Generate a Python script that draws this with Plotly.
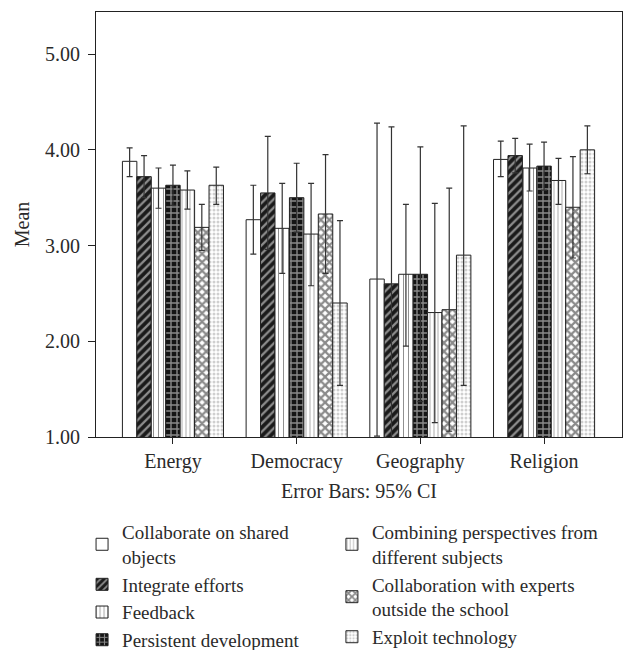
import plotly.graph_objects as go

categories = ["Energy", "Democracy", "Geography", "Religion"]

series_names = [
    "Collaborate on shared<br>objects",
    "Integrate efforts",
    "Feedback",
    "Persistent development",
    "Combining perspectives from<br>different subjects",
    "Collaboration with experts<br>outside the school",
    "Exploit technology",
]

collab_shared = [3.88, 3.27, 2.65, 3.90]
integrate = [3.72, 3.55, 2.60, 3.94]
feedback = [3.60, 3.18, 2.70, 3.81]
persistent = [3.63, 3.50, 2.70, 3.83]
combining = [3.58, 3.12, 2.30, 3.68]
experts = [3.19, 3.33, 2.33, 3.40]
exploit = [3.63, 2.40, 2.90, 4.00]

collab_shared_hi = [4.02, 3.63, 4.28, 4.09]
integrate_hi = [3.94, 4.14, 4.24, 4.12]
feedback_hi = [3.81, 3.65, 3.43, 4.06]
persistent_hi = [3.84, 3.86, 4.03, 4.08]
combining_hi = [3.78, 3.65, 3.44, 3.91]
experts_hi = [3.43, 3.95, 3.60, 3.93]
exploit_hi = [3.82, 3.26, 4.25, 4.25]

collab_shared_lo = [3.72, 2.91, 1.01, 3.72]
integrate_lo = [3.50, 2.96, 0.96, 3.76]
feedback_lo = [3.39, 2.71, 1.95, 3.57]
persistent_lo = [3.42, 3.14, 1.37, 3.58]
combining_lo = [3.38, 2.58, 1.15, 3.43]
experts_lo = [2.95, 2.71, 1.06, 2.87]
exploit_lo = [3.43, 1.54, 1.54, 3.75]

y_ticks = [1, 2, 3, 4, 5]

means = [collab_shared, integrate, feedback, persistent, combining, experts, exploit]
highs = [collab_shared_hi, integrate_hi, feedback_hi, persistent_hi, combining_hi, experts_hi, exploit_hi]
lows = [collab_shared_lo, integrate_lo, feedback_lo, persistent_lo, combining_lo, experts_lo, exploit_lo]

patterns = [
    dict(shape="", bgcolor="white"),
    dict(shape="/", bgcolor="#1a1a1a", fgcolor="white", size=6, solidity=0.38),
    dict(shape="|", bgcolor="white", fgcolor="#222222", size=5, solidity=0.2),
    dict(shape="+", bgcolor="#151515", fgcolor="white", size=6, solidity=0.4),
    dict(shape="|", bgcolor="white", fgcolor="#8a8a8a", size=4, solidity=0.35),
    dict(shape="x", bgcolor="white", fgcolor="#151515", size=6, solidity=0.6),
    dict(shape=".", bgcolor="white", fgcolor="#a0a0a0", size=4, solidity=0.45),
]
legends = ["legend"] * 4 + ["legend2"] * 3

FONT = "Liberation Serif"
TXT = "#2a2a2a"

fig = go.Figure()
for name, m, hi, lo, pat, lg in zip(series_names, means, highs, lows, patterns, legends):
    fig.add_trace(go.Bar(
        name=name,
        x=categories,
        y=m,
        legend=lg,
        marker=dict(color="white", line=dict(color="#222222", width=1), pattern=pat),
        error_y=dict(
            type="data",
            symmetric=False,
            array=[h - v for h, v in zip(hi, m)],
            arrayminus=[v - l for v, l in zip(m, lo)],
            color="#333333",
            thickness=1.2,
            width=3,
        ),
    ))

fig.update_layout(
    width=626,
    height=642,
    margin=dict(l=88, r=12, t=4, b=213, autoexpand=False),
    paper_bgcolor="white",
    plot_bgcolor="white",
    font=dict(family=FONT, size=19, color=TXT),
    barmode="group",
    bargap=0.183,
    bargroupgap=0,
    legend=dict(
        x=-0.0265, y=-0.179, xanchor="left", yanchor="top",
        font=dict(family=FONT, size=19, color=TXT),
        traceorder="normal", bgcolor="rgba(0,0,0,0)",
    ),
    legend2=dict(
        x=0.4485, y=-0.179, xanchor="left", yanchor="top",
        font=dict(family=FONT, size=19, color=TXT),
        traceorder="normal", bgcolor="rgba(0,0,0,0)",
    ),
    xaxis=dict(
        range=[-0.622, 3.63],
        automargin=False,
        showline=True, mirror=True, linecolor="#222222", linewidth=1,
        ticks="outside", ticklen=6, tickcolor="#222222",
        showgrid=False,
        tickfont=dict(family=FONT, size=20, color=TXT),
        title=dict(text="Error Bars: 95% CI", font=dict(family=FONT, size=20, color=TXT), standoff=11),
    ),
    yaxis=dict(
        range=[1, 5.44],
        automargin=False,
        tickvals=y_ticks,
        tickformat=".2f",
        showline=True, mirror=True, linecolor="#222222", linewidth=1,
        ticks="outside", ticklen=7, tickcolor="#222222",
        showgrid=False, zeroline=False,
        ticklabelstandoff=4,
        tickfont=dict(family=FONT, size=20, color=TXT),
        title=dict(text="Mean", font=dict(family=FONT, size=20, color=TXT), standoff=10),
    ),
)

fig.write_html("out.html")
